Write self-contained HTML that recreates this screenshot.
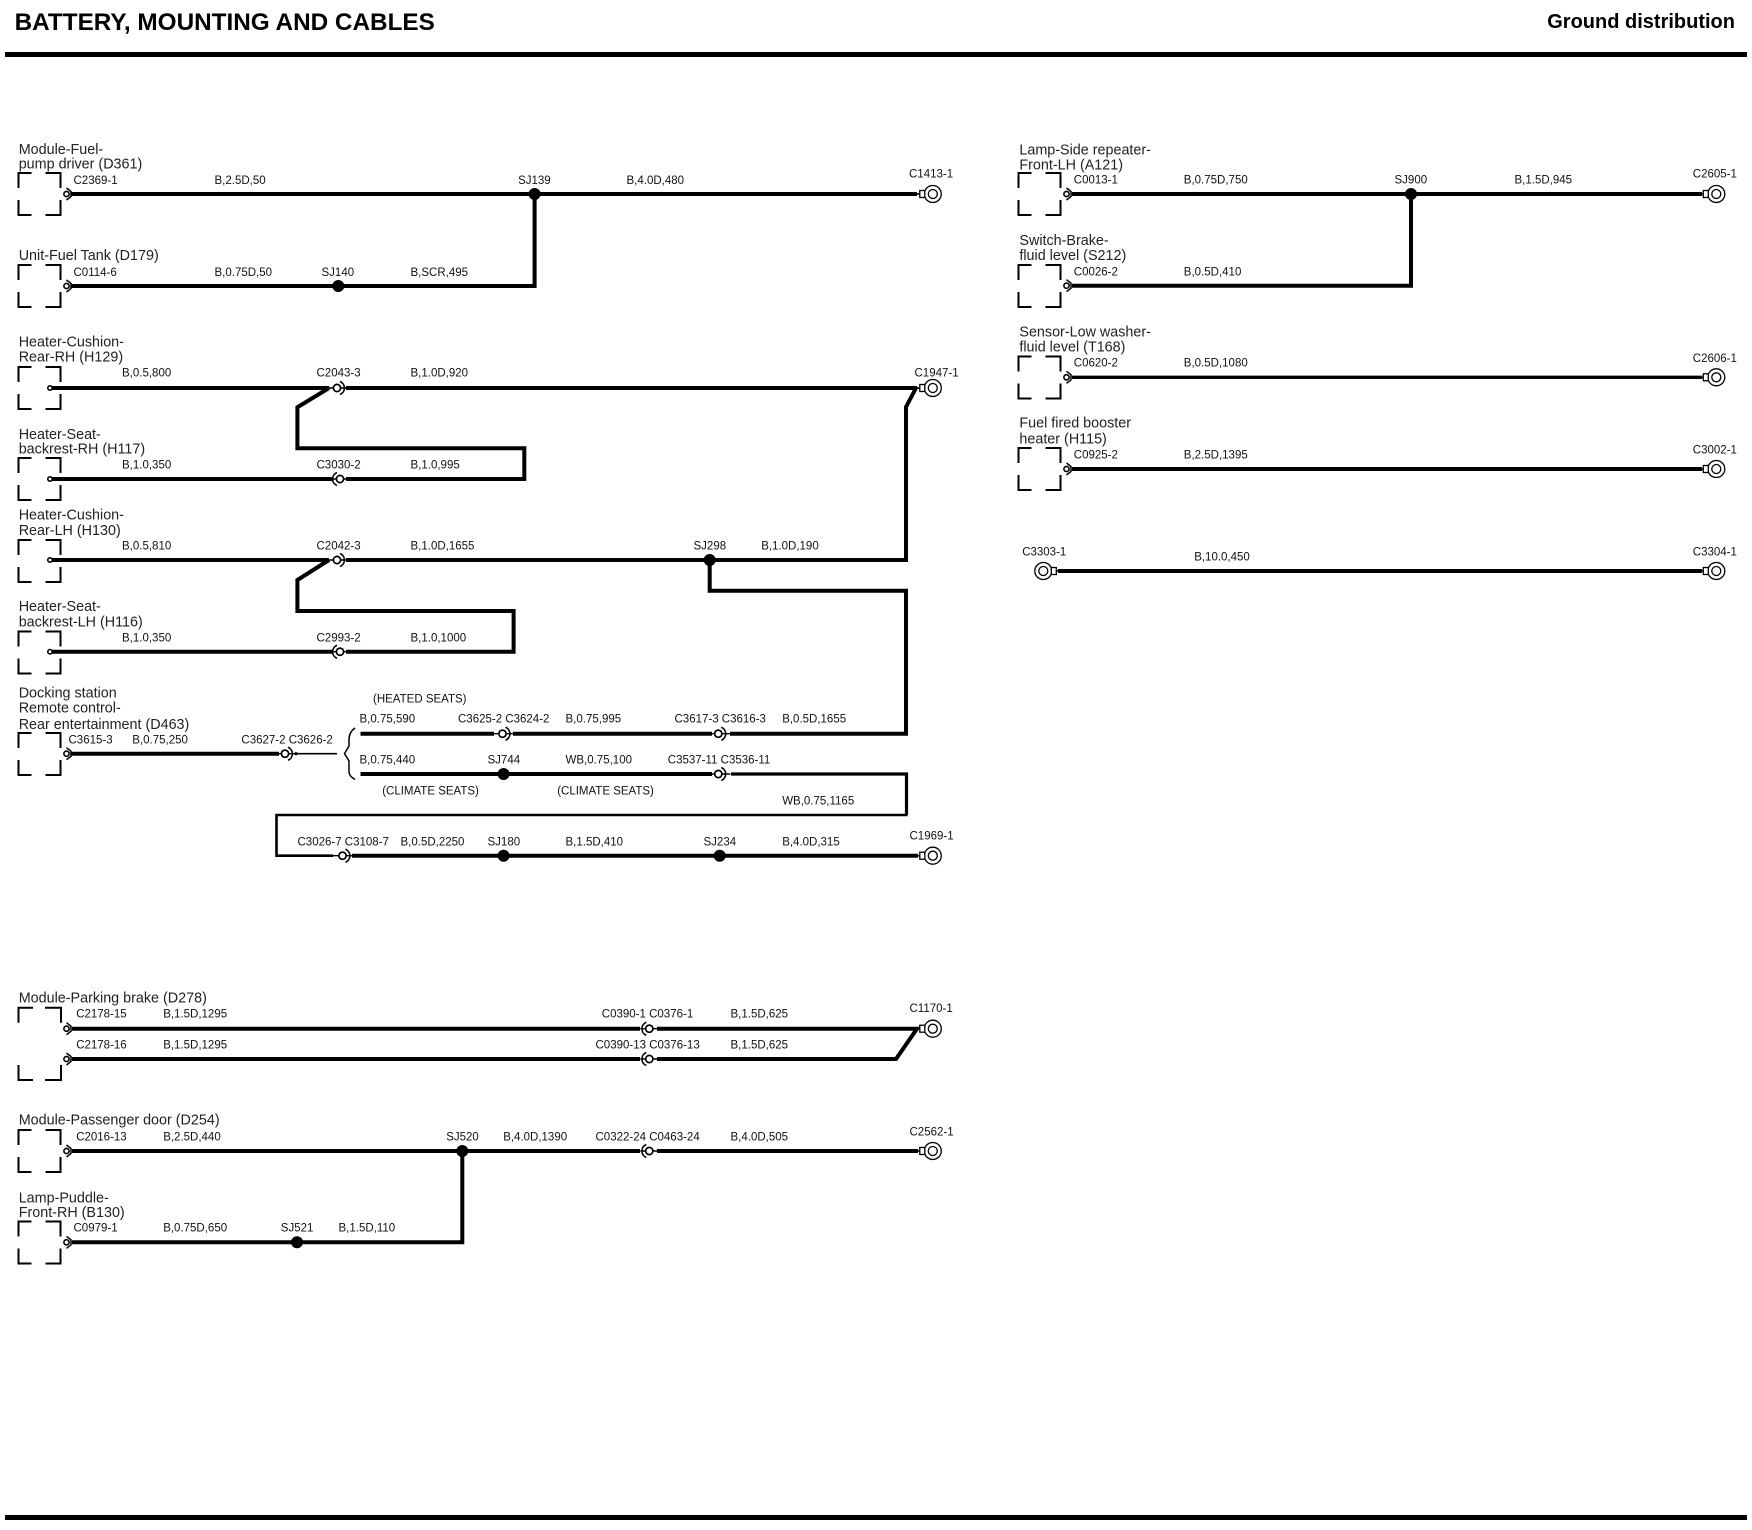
<!DOCTYPE html>
<html><head><meta charset="utf-8"><style>
html,body{margin:0;padding:0;background:#fff}
svg{display:block}
text{font-family:"Liberation Sans",sans-serif;fill:#000}
.n{font-size:14.35px;fill:#222}
.s{font-size:11.5px;fill:#111}
.w{fill:none;stroke:#000;stroke-width:4;stroke-linejoin:miter;stroke-miterlimit:4}
</style></head><body>
<svg width="1752" height="1530" viewBox="0 0 1752 1530" xmlns="http://www.w3.org/2000/svg">
<defs>
<path id="b" d="M0,15V0H13M27,0H42V15M0,27V42H13M27,42H42V27" fill="none" stroke="#000" stroke-width="2"/>
<g id="a" fill="none" stroke="#000"><circle r="2.6" stroke-width="1.6" fill="#fff"/><path d="M0,-6L4.5,-2.5V2.5L0,6" stroke-width="1.5"/></g>
<circle id="o" r="2.2" fill="#fff" stroke="#000" stroke-width="1.6"/>
<g id="r" fill="none" stroke="#000"><path d="M-10,0H12" stroke-width="1.4"/><circle r="3.6" stroke-width="1.7" fill="#fff"/><path d="M3,-6.5A7,7 0 0 1 3,6.5" stroke-width="1.6"/></g>
<g id="l" fill="none" stroke="#000"><path d="M-9,0H8" stroke-width="1.4"/><circle r="3.6" stroke-width="1.7" fill="#fff"/><path d="M-3,-6.5A7,7 0 0 0 -3,6.5" stroke-width="1.6"/></g>
<g id="t" fill="none" stroke="#000"><path d="M-17,0H-12" stroke-width="1.6"/><circle r="8.5" stroke-width="1.3" fill="#fff"/><circle r="4.5" stroke-width="1.3"/><rect x="-13" y="-3.5" width="5" height="7" stroke-width="1.3" fill="#fff"/></g>
<g id="tl" fill="none" stroke="#000"><path d="M12,0H17" stroke-width="1.6"/><circle r="8.5" stroke-width="1.3" fill="#fff"/><circle r="4.5" stroke-width="1.3"/><rect x="8" y="-3.5" width="5" height="7" stroke-width="1.3" fill="#fff"/></g>
</defs>
<rect width="1752" height="1530" fill="#fff"/>
<text x="14.6" y="30" font-size="24.3" font-weight="bold" fill="#111">BATTERY, MOUNTING AND CABLES</text>
<text x="1735" y="28" font-size="20" font-weight="bold" text-anchor="end" fill="#111">Ground distribution</text>
<rect x="5" y="52" width="1742" height="5" fill="#000"/>
<rect x="5" y="1515" width="1742" height="5" fill="#000"/>

<!-- Wires left -->
<path class="w" d="M71,194H917"/>
<path class="w" d="M71,286H534.6V194"/>
<path class="w" d="M50,388H329"/>
<path class="w" d="M346,388H917"/>
<path class="w" d="M916,388L906,407V560H346"/>
<path class="w" d="M329,388L297.4,407.3V448.3H524.3V479H346"/>
<path class="w" d="M50,479H333"/>
<path class="w" d="M50,560H329"/>
<path class="w" d="M329,560L297.4,580V611H513.6V651.7H346"/>
<path class="w" d="M50,651.7H333"/>
<path class="w" d="M709.7,560V590.7H906V733.7H730"/>
<path class="w" d="M71,753.7H279"/>
<path d="M296,753.7H337" stroke="#000" stroke-width="1.6" fill="none"/>
<path d="M355,728Q349,732 349,740V746L344.5,753.7L349,761V772Q349,776 355,779.5" stroke="#000" stroke-width="1.5" fill="none"/>
<path class="w" d="M360.5,733.7H494"/>
<path class="w" d="M513,733.7H712"/>
<path class="w" d="M360.5,774H712"/>
<path class="w" style="stroke-width:3.2" d="M731,774H906.5V815"/>
<path class="w" style="stroke-width:2.6" d="M907.5,815H276.5V855.7H333"/>
<path class="w" d="M352,855.7H918"/>
<path class="w" d="M72,1028.7H640"/>
<path class="w" d="M657,1028.7H917L896,1059H657"/>
<path class="w" d="M72,1059H640"/>
<path class="w" d="M72,1151H640"/>
<path class="w" d="M657,1151H918"/>
<path class="w" d="M72,1242.3H462.3V1151"/>
<!-- Wires right -->
<path class="w" d="M1072,194H1702"/>
<path class="w" d="M1072,285.7H1411V194"/>
<path class="w" style="stroke-width:3.4" d="M1072,377.3H1702"/>
<path class="w" d="M1072,469H1702"/>
<path class="w" d="M1058,571H1702"/>

<!-- Boxes -->
<use href="#b" x="18.5" y="173"/>
<use href="#b" x="18.5" y="265"/>
<use href="#b" x="18.5" y="367"/>
<use href="#b" x="18.5" y="458"/>
<use href="#b" x="18.5" y="540"/>
<use href="#b" x="18.5" y="631.5"/>
<use href="#b" x="18.5" y="733"/>
<path d="M18.5,1022.7V1007.7H33M45,1007.7H61V1022.7M18.5,1065V1080H33M45,1080H61V1065" fill="none" stroke="#000" stroke-width="2"/>
<use href="#b" x="18.5" y="1130"/>
<use href="#b" x="18.5" y="1221.5"/>
<use href="#b" x="1018.5" y="173"/>
<use href="#b" x="1018.5" y="265"/>
<use href="#b" x="1018.5" y="356.5"/>
<use href="#b" x="1018.5" y="448"/>

<!-- Connectors -->
<use href="#a" x="66.5" y="194"/><use href="#a" x="66.5" y="286"/><use href="#a" x="66.5" y="753.7"/>
<use href="#a" x="66.5" y="1028.7"/><use href="#a" x="66.5" y="1059"/><use href="#a" x="66.5" y="1151"/><use href="#a" x="66.5" y="1242.3"/>
<use href="#a" x="1066.5" y="194"/><use href="#a" x="1066.5" y="285.7"/><use href="#a" x="1066.5" y="377.3"/><use href="#a" x="1066.5" y="469"/>
<use href="#o" x="50" y="388"/><use href="#o" x="50" y="479"/><use href="#o" x="50" y="560"/><use href="#o" x="50" y="651.7"/>
<use href="#r" x="337" y="388"/><use href="#r" x="337" y="560"/>
<use href="#l" x="340" y="479"/><use href="#l" x="340" y="651.7"/>
<use href="#r" x="285" y="753.7"/><circle cx="296" cy="753.7" r="1.6" fill="#000"/>
<use href="#r" x="502.5" y="733.7"/><use href="#r" x="718.3" y="733.7"/><use href="#r" x="718.3" y="774"/>
<use href="#r" x="342.5" y="855.7"/>
<use href="#l" x="649.3" y="1028.7"/><use href="#l" x="649.3" y="1059"/><use href="#l" x="649.3" y="1151"/>
<!-- Terminals -->
<use href="#t" x="932.8" y="194"/><use href="#t" x="932.8" y="388"/><use href="#t" x="932.8" y="855.7"/><use href="#t" x="932.8" y="1028.7"/><use href="#t" x="932.8" y="1151"/>
<use href="#t" x="1716.3" y="194"/><use href="#t" x="1716.3" y="377.3"/><use href="#t" x="1716.3" y="469"/><use href="#t" x="1716.3" y="571"/>
<use href="#tl" x="1043.3" y="571"/>
<!-- Splices -->
<g fill="#000">
<circle cx="534.6" cy="194" r="6"/><circle cx="338.3" cy="286" r="6"/><circle cx="709.7" cy="560" r="6"/>
<circle cx="503.6" cy="774" r="6"/><circle cx="503.6" cy="855.7" r="6"/><circle cx="719.7" cy="855.7" r="6"/>
<circle cx="462.3" cy="1151" r="6"/><circle cx="297" cy="1242.3" r="6"/><circle cx="1411" cy="194" r="6"/>
</g>

<!-- Node labels -->
<g transform="translate(-0.3,0)">
<text class="n" x="19" y="153.8">Module-Fuel-</text><text class="n" x="19" y="168.5">pump driver (D361)</text>
<text class="n" x="19" y="260">Unit-Fuel Tank (D179)</text>
<text class="n" x="19" y="346.7">Heater-Cushion-</text><text class="n" x="19" y="361.5">Rear-RH (H129)</text>
<text class="n" x="19" y="439">Heater-Seat-</text><text class="n" x="19" y="453.5">backrest-RH (H117)</text>
<text class="n" x="19" y="519.5">Heater-Cushion-</text><text class="n" x="19" y="535">Rear-LH (H130)</text>
<text class="n" x="19" y="611">Heater-Seat-</text><text class="n" x="19" y="626.5">backrest-LH (H116)</text>
<text class="n" x="19" y="697.7">Docking station</text><text class="n" x="19" y="712.7">Remote control-</text><text class="n" x="19" y="729">Rear entertainment (D463)</text>
<text class="n" x="19" y="1002.7">Module-Parking brake (D278)</text>
<text class="n" x="19" y="1124.3">Module-Passenger door (D254)</text>
<text class="n" x="19" y="1202.3">Lamp-Puddle-</text><text class="n" x="19" y="1217">Front-RH (B130)</text>
<text class="n" x="1019.7" y="154.3">Lamp-Side repeater-</text><text class="n" x="1019.7" y="169.3">Front-LH (A121)</text>
<text class="n" x="1019.7" y="245">Switch-Brake-</text><text class="n" x="1019.7" y="260">fluid level (S212)</text>
<text class="n" x="1019.7" y="336.7">Sensor-Low washer-</text><text class="n" x="1019.7" y="351.7">fluid level (T168)</text>
<text class="n" x="1019.7" y="427.7">Fuel fired booster</text><text class="n" x="1019.7" y="443.3">heater (H115)</text>
</g>

<!-- Small labels -->
<g transform="translate(-0.5,-0.6)">
<text class="s" x="74" y="184.5">C2369-1</text><text class="s" x="215" y="184.5">B,2.5D,50</text><text class="s" x="518.6" y="184.5">SJ139</text><text class="s" x="627" y="184.5">B,4.0D,480</text><text class="s" x="909.5" y="178.3">C1413-1</text>
<text class="s" x="74" y="276.5">C0114-6</text><text class="s" x="215" y="276.5">B,0.75D,50</text><text class="s" x="322" y="276.5">SJ140</text><text class="s" x="411" y="276.5">B,SCR,495</text>
<text class="s" x="122.5" y="377.3">B,0.5,800</text><text class="s" x="317" y="377.3">C2043-3</text><text class="s" x="411" y="377.3">B,1.0D,920</text><text class="s" x="915" y="377">C1947-1</text>
<text class="s" x="122.5" y="469.3">B,1.0,350</text><text class="s" x="317" y="469.3">C3030-2</text><text class="s" x="411" y="469.3">B,1.0,995</text>
<text class="s" x="122.5" y="550.3">B,0.5,810</text><text class="s" x="317" y="550.3">C2042-3</text><text class="s" x="411" y="550.3">B,1.0D,1655</text><text class="s" x="694" y="550.3">SJ298</text><text class="s" x="761.7" y="550.3">B,1.0D,190</text>
<text class="s" x="122.5" y="642.3">B,1.0,350</text><text class="s" x="317" y="642.3">C2993-2</text><text class="s" x="411" y="642.3">B,1.0,1000</text>
<text class="s" x="373.5" y="703.3">(HEATED SEATS)</text>
<text class="s" x="360" y="723.3">B,0.75,590</text><text class="s" x="458.5" y="723.3">C3625-2 C3624-2</text><text class="s" x="566" y="723.3">B,0.75,995</text><text class="s" x="675" y="723.3">C3617-3 C3616-3</text><text class="s" x="782.7" y="723.3">B,0.5D,1655</text>
<text class="s" x="69" y="744">C3615-3</text><text class="s" x="132.8" y="744">B,0.75,250</text><text class="s" x="241.9" y="744">C3627-2 C3626-2</text>
<text class="s" x="360" y="764.3">B,0.75,440</text><text class="s" x="488" y="764.3">SJ744</text><text class="s" x="566" y="764.3">WB,0.75,100</text><text class="s" x="668.3" y="764.3">C3537-11 C3536-11</text>
<text class="s" x="382.7" y="795">(CLIMATE SEATS)</text><text class="s" x="557.7" y="795">(CLIMATE SEATS)</text>
<text class="s" x="782.7" y="805">WB,0.75,1165</text>
<text class="s" x="298" y="846">C3026-7 C3108-7</text><text class="s" x="401" y="846">B,0.5D,2250</text><text class="s" x="488" y="846">SJ180</text><text class="s" x="566" y="846">B,1.5D,410</text><text class="s" x="704" y="846">SJ234</text><text class="s" x="782.7" y="846">B,4.0D,315</text><text class="s" x="910" y="840">C1969-1</text>
<text class="s" x="76.7" y="1018">C2178-15</text><text class="s" x="163.7" y="1018">B,1.5D,1295</text><text class="s" x="602.3" y="1018">C0390-1 C0376-1</text><text class="s" x="731" y="1018">B,1.5D,625</text><text class="s" x="910" y="1012.7">C1170-1</text>
<text class="s" x="76.7" y="1049">C2178-16</text><text class="s" x="163.7" y="1049">B,1.5D,1295</text><text class="s" x="596" y="1049">C0390-13 C0376-13</text><text class="s" x="731" y="1049">B,1.5D,625</text>
<text class="s" x="76.7" y="1141.3">C2016-13</text><text class="s" x="163.7" y="1141.3">B,2.5D,440</text><text class="s" x="446.7" y="1141.3">SJ520</text><text class="s" x="503.7" y="1141.3">B,4.0D,1390</text><text class="s" x="596" y="1141.3">C0322-24 C0463-24</text><text class="s" x="731" y="1141.3">B,4.0D,505</text><text class="s" x="910" y="1136">C2562-1</text>
<text class="s" x="74" y="1232">C0979-1</text><text class="s" x="163.7" y="1232">B,0.75D,650</text><text class="s" x="281.3" y="1232">SJ521</text><text class="s" x="339" y="1232">B,1.5D,110</text>
<text class="s" x="1074.3" y="184">C0013-1</text><text class="s" x="1184.3" y="184">B,0.75D,750</text><text class="s" x="1395" y="184">SJ900</text><text class="s" x="1515" y="184">B,1.5D,945</text><text class="s" x="1693.3" y="178">C2605-1</text>
<text class="s" x="1074.3" y="276">C0026-2</text><text class="s" x="1184.3" y="276">B,0.5D,410</text>
<text class="s" x="1074.3" y="367">C0620-2</text><text class="s" x="1184.3" y="367">B,0.5D,1080</text><text class="s" x="1693.3" y="362.5">C2606-1</text>
<text class="s" x="1074.3" y="459">C0925-2</text><text class="s" x="1184.3" y="459">B,2.5D,1395</text><text class="s" x="1693.3" y="454">C3002-1</text>
<text class="s" x="1022.7" y="556">C3303-1</text><text class="s" x="1194.7" y="561">B,10.0,450</text><text class="s" x="1693.3" y="556">C3304-1</text>
</g>
</svg>
</body></html>
